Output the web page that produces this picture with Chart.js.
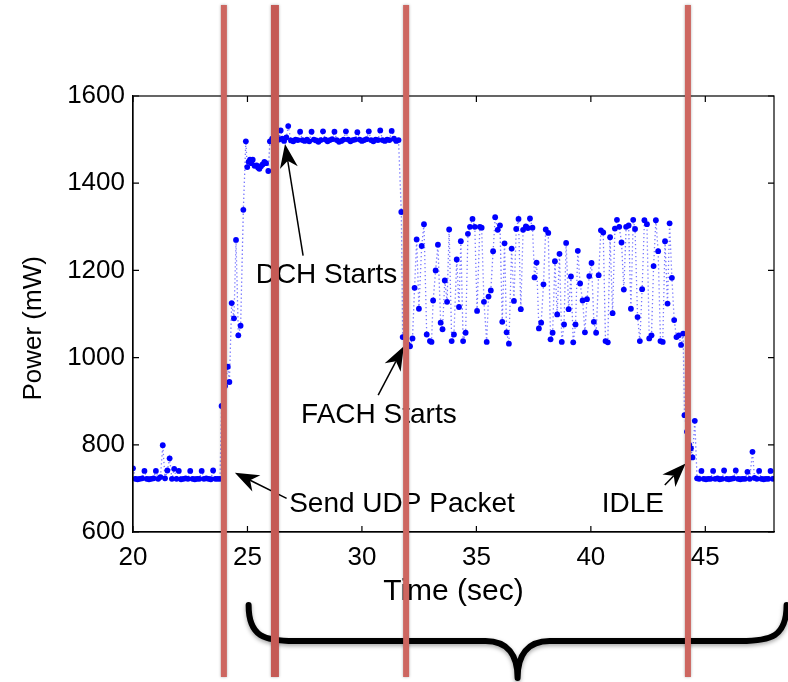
<!DOCTYPE html>
<html><head><meta charset="utf-8">
<script src="https://cdn.jsdelivr.net/npm/chart.js@4.4.1/dist/chart.umd.min.js"></script>
<style>html,body{margin:0;padding:0;background:#fff;}canvas{display:block;}</style>
</head><body>
<canvas id="c" width="788" height="682"></canvas>
<script>
// ---------- data (time in sec, power in mW) ----------
const xTickValues = [20, 25, 30, 35, 40, 45];
const yTickValues = [600, 800, 1000, 1200, 1400, 1600];

const idleBeforeTimes = [20.0,20.1,20.2,20.3,20.4,20.5,20.6,20.7,20.8,20.9,21.0,21.1,21.2,21.3,21.4,21.5,21.6,21.7,21.8,21.9,22.0,22.1,22.2,22.3,22.4,22.5,22.6,22.7,22.8,22.9,23.0,23.1,23.2,23.3,23.4,23.5,23.6,23.7,23.8];
const idleBeforePower = [746,722,721,722,723,740,722,721,722,723,740,722,726,799,723,741,769,722,745,722,740,721,722,723,722,740,722,721,722,722,740,722,723,722,721,741,722,722,722];

const rampTimes = [23.87,24.02,24.14,24.21,24.31,24.41,24.50,24.60,24.70,24.82,24.93,24.99,25.05,25.11,25.17,25.23,25.31,25.40,25.46,25.52,25.59,25.66,25.74,25.81,25.91,25.98,26.08,26.18,26.28,26.38,26.45,26.52,26.60,26.70,26.78];
const rampPower = [889,935,979,944,1125,1090,1270,1051,1073,1339,1496,1437,1449,1454,1446,1454,1440,1441,1436,1433,1439,1443,1449,1446,1428,1496,1502,1500,1505,1500,1521,1502,1497,1505,1531];

const dchTimes = [26.9,27.0,27.1,27.2,27.3,27.4,27.5,27.6,27.7,27.8,27.9,28.0,28.1,28.2,28.3,28.4,28.5,28.6,28.7,28.8,28.9,29.0,29.1,29.2,29.3,29.4,29.5,29.6,29.7,29.8,29.9,30.0,30.1,30.2,30.3,30.4,30.5,30.6,30.7,30.8,30.9,31.0,31.1,31.2,31.3,31.4,31.5,31.6];
const dchPower = [1498,1496,1500,1499,1518,1499,1497,1500,1496,1518,1500,1498,1495,1499,1519,1500,1496,1499,1501,1518,1499,1495,1497,1500,1519,1500,1496,1499,1500,1517,1500,1497,1499,1501,1519,1499,1496,1500,1499,1521,1499,1497,1500,1499,1520,1502,1497,1499];

const fachTimes = [31.72,31.78,31.90,32.00,32.10,32.21,32.30,32.39,32.49,32.61,32.71,32.83,32.97,33.04,33.11,33.22,33.32,33.44,33.52,33.62,33.72,33.81,33.92,34.02,34.14,34.24,34.32,34.42,34.53,34.63,34.72,34.83,34.93,35.03,35.15,35.23,35.33,35.45,35.53,35.63,35.73,35.82,35.93,36.03,36.13,36.23,36.32,36.42,36.54,36.64,36.74,36.84,36.94,37.04,37.16,37.25,37.34,37.45,37.54,37.63,37.73,37.83,37.93,38.03,38.14,38.24,38.33,38.43,38.53,38.63,38.73,38.83,38.92,39.03,39.13,39.23,39.33,39.43,39.53,39.64,39.74,39.83,39.93,40.03,40.13,40.23,40.34,40.44,40.54,40.64,40.74,40.84,40.95,41.05,41.14,41.24,41.34,41.44,41.54,41.65,41.75,41.85,41.93,42.04,42.14,42.24,42.34,42.45,42.55,42.65,42.74,42.84,42.94,43.04,43.14,43.24,43.35,43.44,43.54,43.64,43.74,43.84,43.94,44.03];
const fachPower = [1334,1047,1050,1030,1026, 1044,1160,1271,1112,1256, 1306,1053,1038,1036,1131, 1200,1259,1080,1065,1177, 1128,1294,1038,1053,1225, 1116,1267,1038,1057,1284, 1300,1318,1300,1107,1300, 1298,1128,1036,1140,1154, 1244,1322,1293,1303,1082, 1262,1058,1032,1250,1130, 1295,1318,1111,1293,1301, 1297,1319,1298,1184,1218, 1067,1080,1168,1294,1286, 1042,1057,1221,1099,1238, 1036,1076,1263,1111,1186, 1035,1076,1245,1170,1131, 1058,1134,1187,1217,1082, 1057,1189,1292,1287,1038, 1035,1276,1102,1296,1316, 1300,1264,1156,1300,1303, 1112,1316,1295,1093,1038, 1157,1315,1306,1044,1051, 1210,1315,1244,1038,1036, 1267,1124,1308,1183,1086, 1047,1051,1029,1055];

const tailTimes = [44.09,44.20,44.30,44.37,44.44,44.54,44.64,44.73,44.83];
const tailPower = [868,830,800,792,771,855,723,722,740];

const idleAfterTimes = [44.93,45.03,45.13,45.23,45.34,45.43,45.53,45.63,45.73,45.82,45.93,46.03,46.13,46.23,46.33,46.43,46.53,46.63,46.73,46.84,46.94,47.06,47.15,47.25,47.35,47.45,47.55,47.65,47.75,47.85,47.95];
const idleAfterPower = [722,721,722,722,740,722,723,721,722,741,722,721,722,723,741,722,721,722,722,738,722,784,724,722,740,722,721,722,722,740,722];

// state-transition marker times (sec)
const stateMarkerTimes = [23.97, 26.2, 31.93, 44.24];

// annotation labels
const annotationLabels = ['DCH Starts', 'FACH Starts', 'Send UDP Packet', 'IDLE'];
// ---------------------------------------------------

const allTimes = [].concat(idleBeforeTimes, rampTimes, dchTimes, fachTimes, tailTimes, idleAfterTimes);
const allPower = [].concat(idleBeforePower, rampPower, dchPower, fachPower, tailPower, idleAfterPower);
const points = allTimes.map((t, i) => ({x: t, y: allPower[i]}));

const FONT = '"Liberation Sans", Arial, Helvetica, sans-serif';

// layout of annotations in data units (label anchor, arrow tail, arrow tip)
const annotationLayout = [
  {label: [28.45, 1171], tail: [27.43, 1234], tip: [26.64, 1490]},
  {label: [30.74, 850],  tail: [30.71, 914],  tip: [31.83, 1026]},
  {label: [31.75, 646],  tail: [26.71, 677],  tip: [24.45, 736]},
  {label: [41.83, 646],  tail: [43.23, 708],  tip: [44.14, 757]}
];

function drawArrow(ctx, x0, y0, x1, y1) {
  const a = Math.atan2(y1 - y0, x1 - x0);
  const c = Math.cos(a), s = Math.sin(a);
  const L = 24, W = 9, N = 17;
  ctx.beginPath();
  ctx.moveTo(x0, y0);
  ctx.lineTo(x1 - c * N, y1 - s * N);
  ctx.lineWidth = 1.5;
  ctx.stroke();
  ctx.beginPath();
  ctx.moveTo(x1, y1);
  ctx.lineTo(x1 - c * L - s * W, y1 - s * L + c * W);
  ctx.lineTo(x1 - c * N, y1 - s * N);
  ctx.lineTo(x1 - c * L + s * W, y1 - s * L - c * W);
  ctx.closePath();
  ctx.fill();
}

const overlay = {
  id: 'overlay',
  afterDraw(chart) {
    const {ctx, chartArea: a} = chart;
    const x = chart.scales.x, y = chart.scales.y;
    ctx.save();
    // axes box
    ctx.strokeStyle = '#000';
    ctx.lineWidth = 1.2;
    ctx.strokeRect(a.left, a.top, a.right - a.left, a.bottom - a.top);
    // inward ticks
    ctx.beginPath();
    xTickValues.forEach(v => {
      const px = x.getPixelForValue(v);
      ctx.moveTo(px, a.bottom); ctx.lineTo(px, a.bottom - 6);
      ctx.moveTo(px, a.top); ctx.lineTo(px, a.top + 6);
    });
    yTickValues.forEach(v => {
      const py = y.getPixelForValue(v);
      ctx.moveTo(a.left, py); ctx.lineTo(a.left + 6, py);
      ctx.moveTo(a.right, py); ctx.lineTo(a.right - 6, py);
    });
    ctx.stroke();

    // y-axis title
    ctx.save();
    ctx.fillStyle = '#000';
    ctx.font = '26px ' + FONT;
    ctx.textAlign = 'center';
    ctx.textBaseline = 'middle';
    ctx.translate(34, y.getPixelForValue(1067));
    ctx.rotate(-Math.PI / 2);
    ctx.fillText('Power (mW)', 0, 0);
    ctx.restore();

    // annotation texts
    ctx.fillStyle = '#000';
    ctx.strokeStyle = '#000';
    ctx.font = '28px ' + FONT;
    ctx.textAlign = 'center';
    ctx.textBaseline = 'alphabetic';
    annotationLayout.forEach((an, i) => {
      ctx.fillText(annotationLabels[i], x.getPixelForValue(an.label[0]), y.getPixelForValue(an.label[1]));
    });
    // arrows
    annotationLayout.forEach(an => {
      drawArrow(ctx,
        x.getPixelForValue(an.tail[0]), y.getPixelForValue(an.tail[1]),
        x.getPixelForValue(an.tip[0]), y.getPixelForValue(an.tip[1]));
    });

    // curly brace below the axis
    const bl = x.getPixelForValue(25.05), br = x.getPixelForValue(48.55);
    const bm = (bl + br) / 2;
    const yTop = a.bottom + 73, yMid = a.bottom + 109, yTip = a.bottom + 146;
    ctx.save();
    ctx.shadowColor = 'rgba(0,0,0,0.35)';
    ctx.shadowBlur = 4;
    ctx.shadowOffsetY = 2;
    ctx.lineWidth = 6;
    ctx.lineCap = 'round';
    ctx.lineJoin = 'round';
    ctx.beginPath();
    ctx.moveTo(bl, yTop);
    ctx.bezierCurveTo(bl, yMid - 4, bl + 16, yMid, bl + 46, yMid);
    ctx.lineTo(bm - 32, yMid);
    ctx.bezierCurveTo(bm - 10, yMid, bm, yMid + 14, bm, yTip);
    ctx.moveTo(bm, yTip);
    ctx.bezierCurveTo(bm, yMid + 14, bm + 10, yMid, bm + 32, yMid);
    ctx.lineTo(br - 46, yMid);
    ctx.bezierCurveTo(br - 16, yMid, br, yMid - 4, br, yTop);
    ctx.stroke();
    ctx.restore();

    // red state markers
    ctx.save();
    ctx.shadowColor = 'rgba(0,0,0,0.3)';
    ctx.shadowBlur = 3;
    stateMarkerTimes.forEach((t, i) => {
      const px = x.getPixelForValue(t);
      const w = i === 1 ? 8 : 6;
      ctx.fillStyle = i === 1 ? '#C55A55' : '#CD6660';
      ctx.fillRect(px - w / 2, 5, w, 672);
    });
    ctx.restore();
    ctx.restore();
  }
};

new Chart(document.getElementById('c'), {
  type: 'line',
  data: {
    datasets: [{
      data: points,
      borderColor: 'rgba(60,60,255,0.7)',
      borderWidth: 1.3,
      borderDash: [1.3, 2.7],
      pointRadius: 2.9,
      pointBackgroundColor: '#0000ff',
      pointBorderWidth: 0,
      pointHoverRadius: 0,
      tension: 0,
      fill: false
    }]
  },
  options: {
    responsive: false,
    animation: false,
    events: [],
    layout: {padding: {left: 0, right: 14, top: 96, bottom: 0}},
    plugins: {legend: {display: false}, tooltip: {enabled: false}},
    scales: {
      x: {
        type: 'linear',
        min: 20, max: 48,
        afterBuildTicks: s => { s.ticks = xTickValues.map(v => ({value: v})); },
        afterFit: s => { s.height = 150; },
        grid: {display: true, drawOnChartArea: false, drawTicks: false},
        border: {display: true, color: '#000', width: 1.2},
        ticks: {color: '#000', font: {family: FONT, size: 26}, padding: 10, maxRotation: 0, autoSkip: false, callback: v => String(v)},
        title: {display: true, text: 'Time (sec)', color: '#000', font: {family: FONT, size: 30}, padding: {top: 0, bottom: 72}}
      },
      y: {
        type: 'linear',
        min: 600, max: 1600,
        afterBuildTicks: s => { s.ticks = yTickValues.map(v => ({value: v})); },
        afterFit: s => { s.width = 133; },
        grid: {display: true, drawOnChartArea: false, drawTicks: false},
        border: {display: true, color: '#000', width: 1.2},
        ticks: {color: '#000', font: {family: FONT, size: 26}, padding: 8, autoSkip: false, callback: v => String(v)},
        title: {display: false}
      }
    }
  },
  plugins: [overlay]
});
</script>
</body></html>
